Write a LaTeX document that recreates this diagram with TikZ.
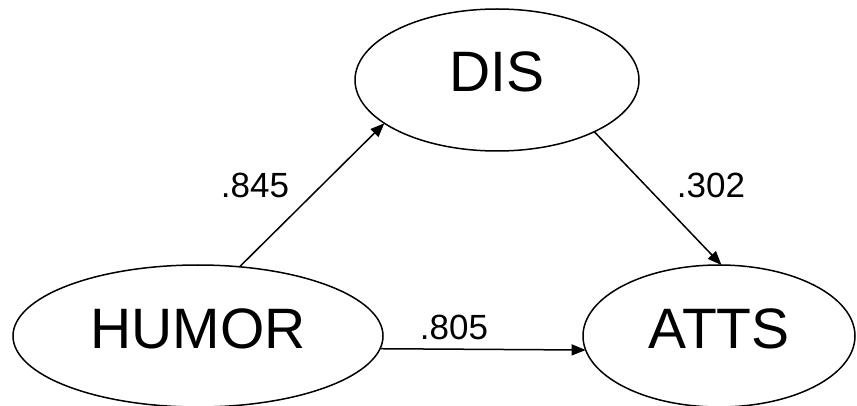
\documentclass[tikz,border=0pt]{standalone}
\usepackage{fontspec}
\setmainfont{Liberation Sans}
\usetikzlibrary{shapes.geometric,arrows.meta}
\begin{document}
\begin{tikzpicture}[x=1pt,y=-1pt,
  latent/.style={draw=black, line width=1.5pt, ellipse, inner sep=0pt, outer sep=0pt,
    text height=24pt, text depth=0pt, font=\fontsize{57}{60}\selectfont},
  path/.style={draw=black, line width=1.5pt, -{Triangle[length=14pt,width=11pt]}},
  coef/.style={anchor=base, inner sep=0pt, font=\fontsize{35}{40}\selectfont}]
\useasboundingbox (0,0) rectangle (857,406);
\node[latent, minimum width=284pt, minimum height=142pt] (DIS) at (497,80) {DIS};
\node[latent, minimum width=370pt, minimum height=142pt] (HUMOR) at (198,336) {HUMOR};
\node[latent, minimum width=272pt, minimum height=142pt] (ATTS) at (719,336) {ATTS};
\draw[path] (HUMOR.59) -- (DIS.201.1);
\draw[path] (DIS.-28.9) -- (ATTS.88);
\draw[path] (HUMOR.-4.7) -- (ATTS.186.44);
\node[coef] (c1) at (255,198) {.845};
\node[coef] (c2) at (711,198) {.302};
\node[coef] (c3) at (454,339) {.805};
\end{tikzpicture}
\end{document}
